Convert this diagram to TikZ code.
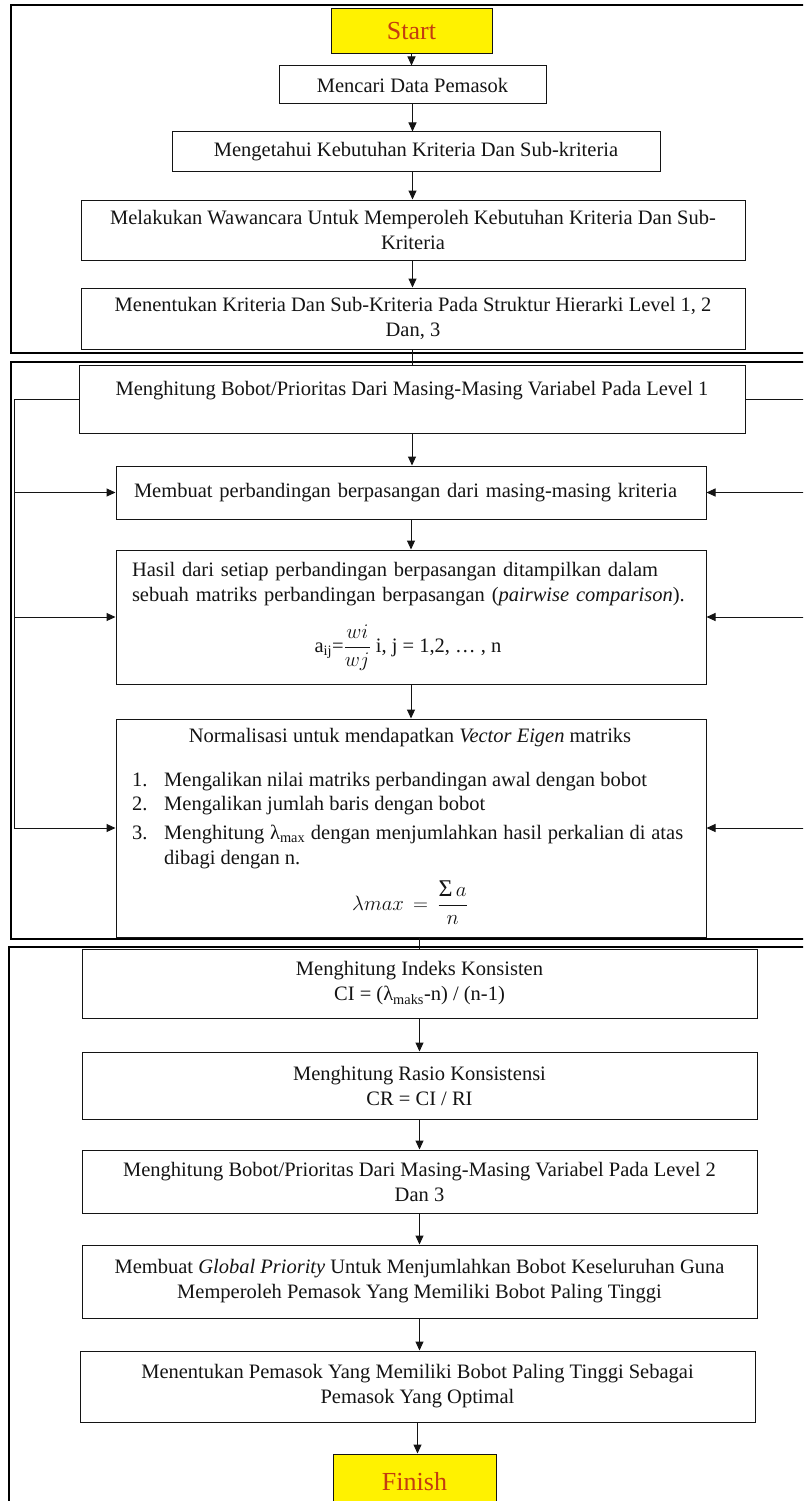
\documentclass[tikz,border=0pt]{standalone}
\usepackage{fontspec}
\setmainfont{Liberation Serif}
\usetikzlibrary{arrows.meta}
\definecolor{startred}{RGB}{196,60,16}
\definecolor{ink}{RGB}{20,20,20}
\begin{document}
\begin{tikzpicture}[x=1pt,y=-1pt,
  box/.style={draw=ink, line width=1pt, inner sep=0pt, align=center, text=ink, font=\fontsize{20.5}{25}\selectfont},
  term/.style={box, fill=yellow, text=startred, font=\fontsize{26}{30}\selectfont},
  txt/.style={inner sep=0pt, text=ink, font=\fontsize{20.5}{25}\selectfont},
  arr/.style={draw=ink, line width=1pt, -{Triangle[length=9pt,width=8pt]}},
  link/.style={draw=ink, line width=1pt},
  frame/.style={draw=black, line width=1.8pt}]
\useasboundingbox (0,0) rectangle (803,1501);
\clip (0,0) rectangle (803,1501);
\fill[white] (0,0) rectangle (803,1501);

% frames
\draw[frame] (830,5) -- (11,5) -- (11,353) -- (830,353);
\draw[frame] (830,362) -- (11,362) -- (11,939) -- (830,939);
\draw[frame] (830,947) -- (9,947) -- (9,1530);

% top section
\node[term, minimum width=161pt, minimum height=45pt] (start) at (411.5,31.5) {Start};
\node[box, minimum width=267pt, minimum height=38pt] (mencari) at (412.5,85) {Mencari Data Pemasok};
\node[box, minimum width=488pt, minimum height=39pt] (ketahui) at (416,151.5) {Mengetahui Kebutuhan Kriteria Dan Sub-kriteria};
\node[box, minimum width=664pt, minimum height=60pt] (wawan) at (413,230) {Melakukan Wawancara Untuk Memperoleh Kebutuhan Kriteria Dan Sub-\\Kriteria};
\node[box, minimum width=664pt, minimum height=61pt] (tentu) at (413,318.5) {Menentukan Kriteria Dan Sub-Kriteria Pada Struktur Hierarki Level 1, 2\\Dan, 3};

% middle section
\node[box, minimum width=666pt, minimum height=68pt] (lvl1) at (412,399) {};
\node[txt] (lvl1t) at (412,391) {Menghitung Bobot/Prioritas Dari Masing-Masing Variabel Pada Level 1};
\node[box, align=left, text width=554pt, minimum width=590pt, minimum height=53pt] (membuat) at (411,492.5) {Membuat perbandingan berpasangan dari masing-masing kriteria};
\node[box, minimum width=590pt, minimum height=134pt] (hasil) at (411,617) {};
\node[txt, align=left, text width=554pt] (hasilt) at (409,584.5) {\makebox[554pt][s]{Hasil dari setiap perbandingan berpasangan ditampilkan dalam}\\sebuah matriks perbandingan berpasangan (\textit{pairwise comparison}).};
\node[txt] (hasilf) at (408,648) {a\textsubscript{ij}=$\displaystyle\frac{wi}{wj}$ i, j = 1,2, … , n};
\node[box, minimum width=590pt, minimum height=218pt] (norm) at (411,828) {};
\node[txt] (normt) at (410,738) {Normalisasi untuk mendapatkan \textit{Vector Eigen} matriks};
\node[txt, anchor=base west] (n1) at (132,786) {\makebox[32pt][l]{1.}Mengalikan nilai matriks perbandingan awal dengan bobot};
\node[txt, anchor=base west] (n2) at (132,810) {\makebox[32pt][l]{2.}Mengalikan jumlah baris dengan bobot};
\node[txt, anchor=base west] (n3) at (132,839) {\makebox[32pt][l]{3.}\makebox[519pt][s]{Menghitung λ\textsubscript{max} dengan menjumlahkan hasil perkalian di atas}};
\node[txt, anchor=base west] (n4) at (164,864) {dibagi dengan n.};
\node[txt] (normf) at (410,903) {$\displaystyle \lambda max\, = \,\frac{\mbox{\fontsize{24}{24}\selectfont Σ}\,a}{n}$};

% lower section
\node[box, minimum width=675pt, minimum height=69pt] (indeks) at (419.5,983.5) {Menghitung Indeks Konsisten\\CI = (λ\textsubscript{maks}-n) / (n-1)};
\node[box, minimum width=675pt, minimum height=67pt] (rasio) at (419.5,1085.5) {Menghitung Rasio Konsistensi\\CR = CI / RI};
\node[box, minimum width=675pt, minimum height=63pt] (lvl2) at (419.5,1181.5) {Menghitung Bobot/Prioritas Dari Masing-Masing Variabel Pada Level 2\\Dan 3};
\node[box, minimum width=675pt, minimum height=73pt] (global) at (419.5,1281.5) {Membuat \textit{Global Priority} Untuk Menjumlahkan Bobot Keseluruhan Guna\\Memperoleh Pemasok Yang Memiliki Bobot Paling Tinggi};
\node[box, minimum width=675pt, minimum height=71pt] (pemasok) at (417.5,1386.5) {Menentukan Pemasok Yang Memiliki Bobot Paling Tinggi Sebagai\\Pemasok Yang Optimal};
\node[term, minimum width=163pt, minimum height=56pt] (finish) at (414.5,1482) {Finish};

% main flow
\draw[arr] (start.south) -- (start.south |- mencari.north);
\draw[arr] (mencari.south) -- (mencari.south |- ketahui.north);
\draw[arr] (mencari.south |- ketahui.south) -- (mencari.south |- wawan.north);
\draw[arr] (mencari.south |- wawan.south) -- (mencari.south |- tentu.north);
\draw[link] (lvl1.north |- tentu.south) -- (lvl1.north);
\draw[arr] (lvl1.south) -- (lvl1.south |- membuat.north);
\draw[arr] (membuat.south) -- (membuat.south |- hasil.north);
\draw[arr] (hasil.south) -- (hasil.south |- norm.north);
\draw[link] (indeks.north |- norm.south) -- (indeks.north);
\draw[arr] (indeks.south) -- (indeks.south |- rasio.north);
\draw[arr] (rasio.south) -- (rasio.south |- lvl2.north);
\draw[arr] (lvl2.south) -- (lvl2.south |- global.north);
\draw[arr] (global.south) -- (global.south |- pemasok.north);
\draw[arr] (pemasok.south) -- (pemasok.south |- finish.north);

% feedback loops
\coordinate (fl) at (14,0);
\coordinate (fr) at (820,0);
\draw[arr] (lvl1.west) -| (fl |- norm.west) -- (norm.west);
\draw[arr] (fl |- membuat.west) -- (membuat.west);
\draw[arr] (fl |- hasil.west) -- (hasil.west);
\draw[arr] (lvl1.east) -| (fr |- norm.east) -- (norm.east);
\draw[arr] (fr |- membuat.east) -- (membuat.east);
\draw[arr] (fr |- hasil.east) -- (hasil.east);
\end{tikzpicture}
\end{document}
